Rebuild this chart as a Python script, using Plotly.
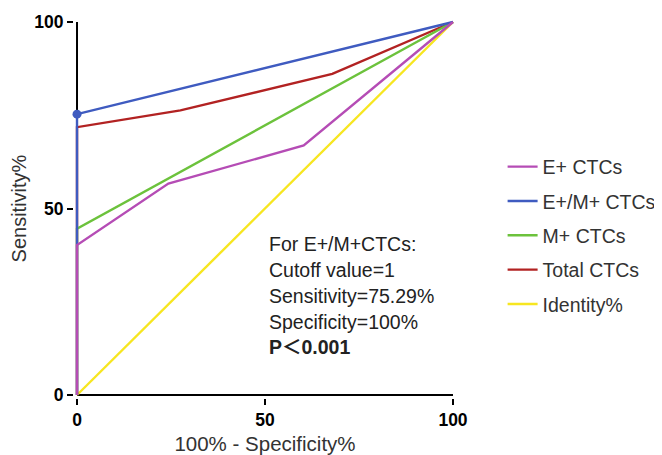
import plotly.graph_objects as go

# Data
e_x = [0, 0, 24.3, 60.3, 100]
e_y = [0, 40.2, 56.7, 66.9, 100]
em_x = [0, 0, 100]
em_y = [0, 75.29, 100]
m_x = [0, 0, 100]
m_y = [0, 44.6, 100]
tot_x = [0, 0, 27.5, 67.9, 100]
tot_y = [0, 71.8, 76.3, 86.1, 100]
id_x = [0, 100]
id_y = [0, 100]

cutoff_point = (0, 75.29)
tick_vals = [0, 50, 100]
axis_min, axis_max = 0, 100
info_lines = ["For E+/M+CTCs:", "Cutoff value=1", "Sensitivity=75.29%",
              "Specificity=100%", "<b>P＜0.001</b>"]

FONT = "Arial, Liberation Sans, Noto Sans CJK SC, sans-serif"
colors = {
    "E+ CTCs": "#B54CB5",
    "E+/M+ CTCs": "#3F5BC0",
    "M+ CTCs": "#6CC23C",
    "Total CTCs": "#B22222",
    "Identity%": "#F7E620",
}

fig = go.Figure()
traces = [
    ("Identity%", id_x, id_y, 5),
    ("Total CTCs", tot_x, tot_y, 4),
    ("M+ CTCs", m_x, m_y, 3),
    ("E+/M+ CTCs", em_x, em_y, 2),
    ("E+ CTCs", e_x, e_y, 1),
]
for name, xs, ys, rank in traces:
    fig.add_trace(go.Scatter(
        x=xs, y=ys, mode="lines", name=name,
        line=dict(color=colors[name], width=2.4),
        legendrank=rank, legendgroup=name, cliponaxis=False,
    ))
fig.add_trace(go.Scatter(
    x=[cutoff_point[0]], y=[cutoff_point[1]], mode="markers",
    marker=dict(color=colors["E+/M+ CTCs"], size=9),
    showlegend=False, cliponaxis=False,
))

for i, txt in enumerate(info_lines):
    fig.add_annotation(
        x=50.6, y=40.4 - i * 6.9, xref="x", yref="y", text=txt,
        showarrow=False, xanchor="left", yanchor="middle",
        font=dict(family=FONT, size=19.5, color="#222"),
    )

# axis lines as shapes under the traces, along the 0 value of each axis
fig.add_shape(type="line", xref="x", yref="y", x0=axis_min, x1=axis_min,
              y0=axis_min, y1=axis_max, line=dict(color="black", width=2), layer="below")
fig.add_shape(type="line", xref="x", yref="y", x0=axis_min, x1=axis_max,
              y0=axis_min, y1=axis_min, line=dict(color="black", width=2), layer="below")

pad = 0.8  # small padding so lines along the axes are not clipped
axis_common = dict(
    range=[axis_min - pad, axis_max + pad], tickvals=tick_vals, ticks="outside",
    ticklen=6, tickwidth=2, tickcolor="black", showline=False,
    showgrid=False, zeroline=False, mirror=False, automargin=False,
    tickfont=dict(family=FONT, size=17.5, color="black", weight="bold"),
)
fig.update_xaxes(**axis_common, title=dict(text="100% - Specificity%",
                 font=dict(family=FONT, size=20.5, color="#333"), standoff=9))
fig.update_yaxes(**axis_common, title=dict(text="Sensitivity%",
                 font=dict(family=FONT, size=20, color="#333"), standoff=11))

# page has an 8px body margin, so the figure is sized to fit the window
fig.update_layout(
    width=654, height=447,
    margin=dict(l=66, r=206, t=11, b=57, autoexpand=False),
    plot_bgcolor="white", paper_bgcolor="white",
    showlegend=True,
    legend=dict(x=1.122, y=0.429, xanchor="left", yanchor="middle",
                font=dict(family=FONT, size=19.5, color="#333"),
                tracegroupgap=6, itemwidth=30, bgcolor="rgba(0,0,0,0)"),
)

fig.write_html("out.html")
